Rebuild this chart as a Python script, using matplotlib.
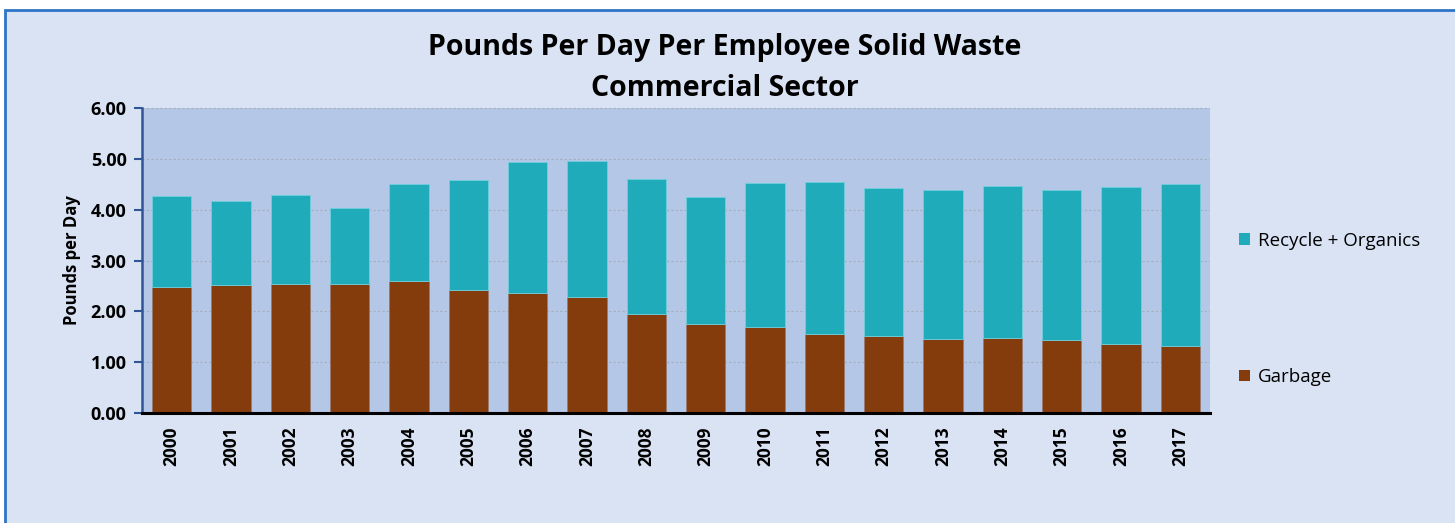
import numpy as np
import matplotlib
matplotlib.use("Agg")
import matplotlib.pyplot as plt
from matplotlib.patches import Rectangle, Patch

years = [str(y) for y in range(2000, 2018)]
garbage = [2.48, 2.52, 2.54, 2.53, 2.59, 2.42, 2.35, 2.28, 1.95, 1.75,
           1.68, 1.56, 1.52, 1.45, 1.48, 1.43, 1.36, 1.32]
total = [4.27, 4.17, 4.29, 4.03, 4.51, 4.59, 4.94, 4.97, 4.60, 4.26,
         4.53, 4.54, 4.43, 4.39, 4.47, 4.39, 4.44, 4.51]
recycle = [t - g for t, g in zip(total, garbage)]

garbage_col = "#843C0C"
recycle_col = "#20ABBA"

plt.rcParams['font.family'] = ['Open Sans', 'DejaVu Sans']

fig = plt.figure(figsize=(14.55, 5.23), dpi=100)
fig.patch.set_facecolor("white")
# chart frame
fig.patches.append(Rectangle((5 / 1455, -0.05), 1.1, (523 - 9.5) / 523 + 0.05,
                             transform=fig.transFigure, facecolor="#DAE3F3",
                             edgecolor="#2E75C6", linewidth=2, zorder=-10))

ax = fig.add_axes([142 / 1455, (523 - 412.7) / 523, 1068 / 1455, 304.4 / 523])
ax.set_facecolor("#B4C7E7")
x = np.arange(len(years))
ax.bar(x, garbage, width=0.66, color=garbage_col, edgecolor="#9a7a70",
       linewidth=0.6, label="Garbage", zorder=3)
ax.bar(x, recycle, bottom=garbage, width=0.66, color=recycle_col,
       edgecolor="#6fd0dc", linewidth=0.6, label="Recycle + Organics", zorder=3)

ax.set_xlim(-0.5, len(years) - 0.5)
ax.set_ylim(0, 6)
ax.set_yticks(np.arange(0, 7, 1))
ax.set_yticklabels([f"{v:.2f}" for v in np.arange(0, 7, 1)],
                   fontsize=13, fontweight="bold")
ax.set_xticks(x)
ax.set_xticklabels(years, rotation=90, fontsize=12.5, fontweight="bold")
ax.tick_params(axis="x", length=0, pad=10)
ax.tick_params(axis="y", length=6, color="#2F5597", width=1.5, pad=5)
ax.yaxis.grid(True, linestyle=(0, (2, 2)), color="#A8AEBA", linewidth=0.8, zorder=0)
ax.set_axisbelow(True)
for s in ["top", "right"]:
    ax.spines[s].set_visible(False)
ax.spines["left"].set_color("#2F5597")
ax.spines["left"].set_linewidth(1.8)
ax.spines["bottom"].set_color("black")
ax.spines["bottom"].set_linewidth(2.2)
ax.spines["bottom"].set_zorder(5)

ax.set_ylabel("Pounds per Day", fontsize=12, fontweight="bold", labelpad=7)

fig.text(725 / 1455, 1 - 47 / 523, "Pounds Per Day Per Employee Solid Waste",
         ha="center", va="center", fontsize=20.5, fontweight="bold")
fig.text(725 / 1455, 1 - 88 / 523, "Commercial Sector",
         ha="center", va="center", fontsize=20.5, fontweight="bold")

handles = [Patch(facecolor=recycle_col), Patch(facecolor=garbage_col)]
fig.legend(handles, ["Recycle + Organics", "Garbage"], loc="center left",
           bbox_to_anchor=(1222 / 1455, 1 - 309 / 523), frameon=False,
           fontsize=13.5, handlelength=0.6, handleheight=0.6, handletextpad=0.4,
           labelspacing=6.3)

fig.savefig("out.png", dpi=100)
